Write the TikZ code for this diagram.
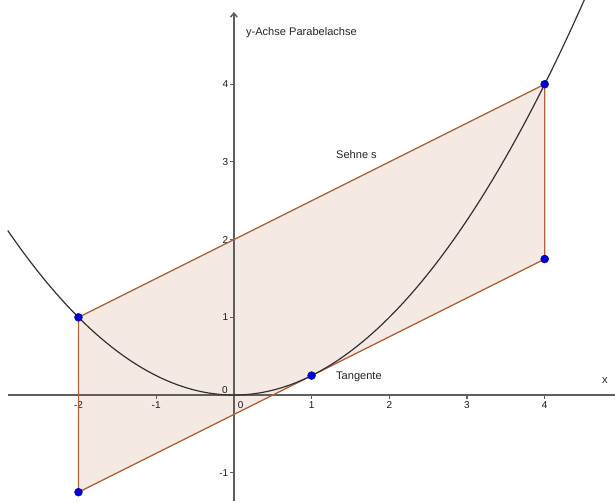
\documentclass[tikz,border=0pt]{standalone}
\usepackage{fontspec}
\setmainfont{Liberation Sans}
\usetikzlibrary{arrows.meta}
\definecolor{polyedge}{RGB}{178,98,58}
\definecolor{polyfill}{RGB}{245,233,228}
\definecolor{axisgray}{RGB}{95,95,95}
\definecolor{ptblue}{RGB}{0,0,215}
\tikzset{
  lbl/.style={font=\fontsize{8.3pt}{10pt}\selectfont, text=black!85, inner sep=0pt},
  ticklbl/.style={font=\fontsize{7.5pt}{9pt}\selectfont, text=black!90, inner sep=0pt},
  axisline/.style={axisgray, line width=1.1pt},
  edge/.style={polyedge, line width=1pt},
  pt/.style={circle, fill=ptblue, draw=ptblue!70!black, line width=0.3pt, inner sep=0pt, minimum size=6pt},
  curve/.style={black!80, line width=0.9pt}
}
\begin{document}
\begin{tikzpicture}[x=2.048cm, y=2.048cm]
\useasboundingbox (-3.010,-1.364) rectangle (4.905,5.084);
\coordinate (A) at (-2,1);
\coordinate (B) at (4,4);
\coordinate (C) at (4,1.75);
\coordinate (D) at (-2,-1.25);
\coordinate (T) at (1,0.25);
% polygon fill
\fill[polyfill] (A) -- (B) -- (C) -- (D) -- cycle;
% axes
\coordinate (xl) at (-2.91,0);
\coordinate (xr) at (4.905,0);
\coordinate (yb) at (0,-1.364);
\coordinate (yt) at (0,4.93);
\draw[axisline] (xl) -- (xr);
\draw[axisline, -{Straight Barb[length=3pt,width=5pt]}] (yb) -- (yt);
% x ticks
\foreach \i in {-2,-1,1,2,3,4} {
  \draw[axisgray, line width=0.8pt] (\i,0) -- (\i,-0.05);
  \node[ticklbl] (xt\i) at (\i,-0.13) {\i};
}
% y ticks
\foreach \j in {-1,1,2,3,4} {
  \draw[axisgray, line width=0.8pt] (0,\j) -- (-0.05,\j);
  \node[ticklbl, anchor=east] (yt\j) at (-0.07,\j) {\j};
}
\node[ticklbl] (o1) at (-0.116,0.064) {0};
\node[ticklbl] (o2) at (0.086,-0.129) {0};
% polygon edges
\draw[edge] (A) -- (B) -- (C) -- (D) -- cycle;
% parabola
\begin{scope}
\clip (-3.010,-1.364) rectangle (4.905,5.084);
\draw[curve] plot[domain=-2.91:4.6, samples=120, smooth] (\x,{\x*\x/4});
\end{scope}
% points
\foreach \p in {A,B,C,D,T} { \node[pt] (p\p) at (\p) {}; }
% labels
\node[lbl, anchor=west] (ylab) at (0.154,4.67) {y-Achse Parabelachse};
\node[lbl, anchor=west] (sehne) at (1.313,3.10) {Sehne s};
\node[lbl, anchor=west] (tang) at (1.313,0.23) {Tangente};
\node[lbl] (xlab) at (4.775,0.19) {x};
\end{tikzpicture}
\end{document}
